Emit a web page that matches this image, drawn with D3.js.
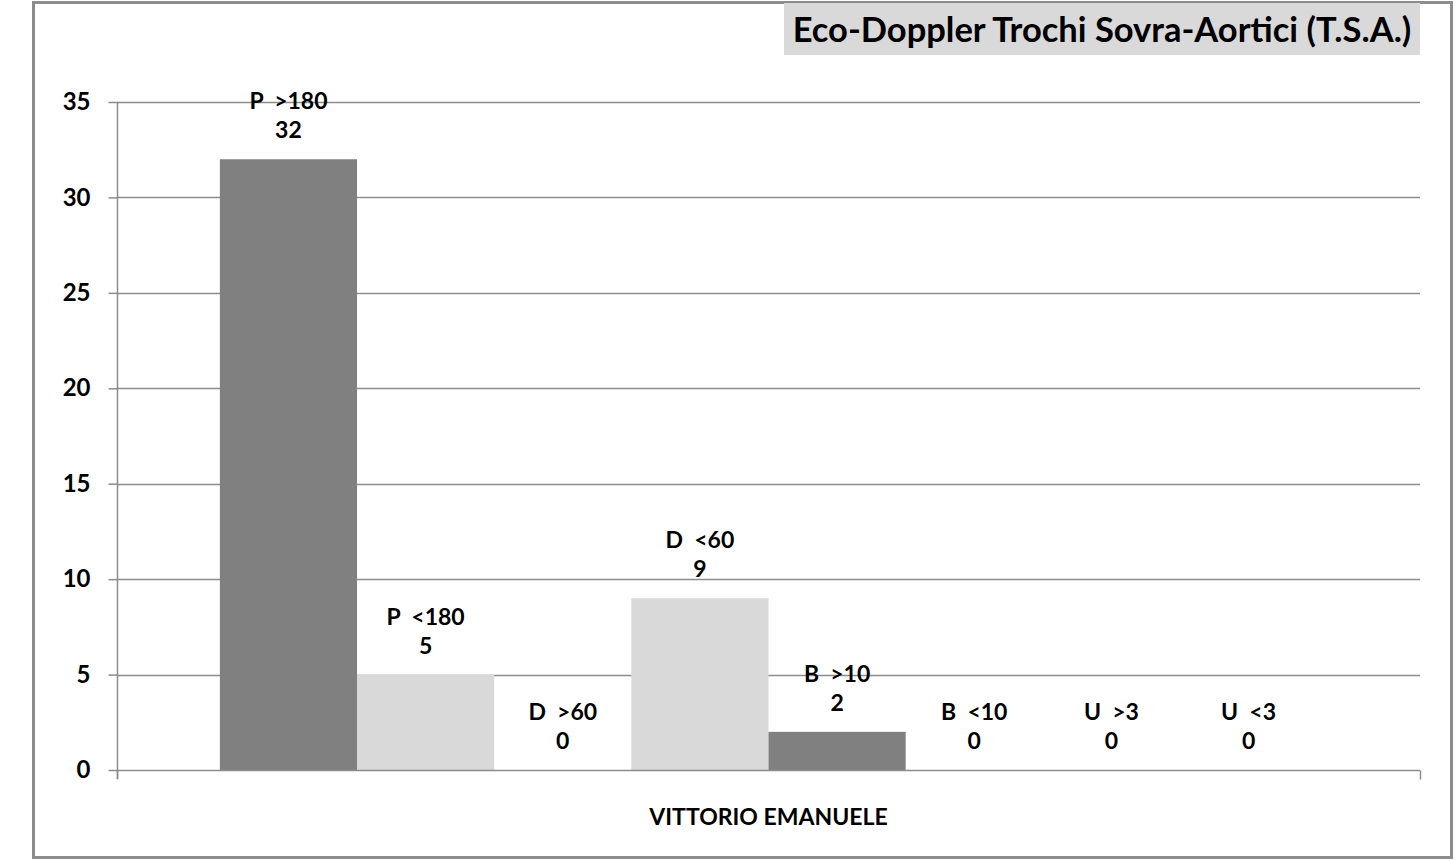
<!DOCTYPE html>
<html>
<head>
<meta charset="utf-8">
<script src="https://cdn.jsdelivr.net/npm/d3@7/dist/d3.min.js"></script>
<style>
  html, body { margin: 0; padding: 0; background: #fff; }
  svg { display: block; }
  text { font-family: Lato, "Open Sans", sans-serif; font-weight: 700; fill: #000; }
</style>
</head>
<body>
<svg id="chart" width="1456" height="861"></svg>
<script>
// Chart content
const titleText = "Eco-Doppler Trochi Sovra-Aortici (T.S.A.)";
const categories = ["VITTORIO EMANUELE"];
const seriesNames = ["P  >180", "P  <180", "D  >60", "D  <60", "B  >10", "B  <10", "U  >3", "U  <3"];
const seriesValues = [32, 5, 0, 9, 2, 0, 0, 0];
const seriesColors = ["#808080", "#d9d9d9", "#808080", "#d9d9d9", "#808080", "#d9d9d9", "#808080", "#d9d9d9"];
const yTicks = [0, 5, 10, 15, 20, 25, 30, 35];

const svg = d3.select("#chart");

// Outer chart frame
svg.append("rect")
  .attr("x", 33.5).attr("y", 2.5)
  .attr("width", 1418).attr("height", 855)
  .attr("fill", "#fff")
  .attr("stroke", "#8c8c8c").attr("stroke-width", 3);

// Plot area
const plot = { left: 117, right: 1420, top: 102, bottom: 770 };

const y = d3.scaleLinear().domain([0, 35]).range([plot.bottom, plot.top]);
const x0 = d3.scaleBand().domain(categories).range([plot.left, plot.right]).padding(0);
const x1 = d3.scaleBand().domain(seriesNames).range([0, x0.bandwidth()])
  .paddingInner(0).paddingOuter(0.75);

// Horizontal gridlines
svg.append("g")
  .selectAll("line")
  .data(yTicks.filter(d => d > 0))
  .join("line")
  .attr("x1", plot.left).attr("x2", plot.right)
  .attr("y1", d => Math.round(y(d)) + 0.5).attr("y2", d => Math.round(y(d)) + 0.5)
  .attr("stroke", "#8c8c8c").attr("stroke-width", 1.5);

// Y axis
const yAxis = d3.axisLeft(y).tickValues(yTicks).tickSize(9).tickPadding(18).tickFormat(d3.format("d"));
const gy = svg.append("g").attr("transform", `translate(${plot.left + 0.5},0)`).call(yAxis);
gy.select(".domain").remove();
gy.selectAll(".tick line").attr("stroke", "#8c8c8c").attr("stroke-width", 1.5);
gy.selectAll(".tick text").style("font-size", "24px").attr("fill", "#000");
gy.append("line")
  .attr("x1", 0).attr("x2", 0)
  .attr("y1", plot.top).attr("y2", plot.bottom + 9)
  .attr("stroke", "#8c8c8c").attr("stroke-width", 1.5);

// Bars
const group = svg.append("g").attr("transform", `translate(${x0(categories[0])},0)`);
const data = seriesNames.map((name, i) => ({ name, value: seriesValues[i], color: seriesColors[i] }));

group.selectAll("rect")
  .data(data)
  .join("rect")
  .attr("x", d => x1(d.name))
  .attr("width", x1.bandwidth())
  .attr("y", d => y(d.value))
  .attr("height", d => y(0) - y(d.value))
  .attr("fill", d => d.color);

// X axis baseline and category boundary ticks
const xAxis = d3.axisBottom(x0).tickSize(0).tickFormat("");
const gx = svg.append("g").attr("transform", `translate(0,${plot.bottom + 0.5})`).call(xAxis);
gx.select(".domain").remove();
gx.append("line")
  .attr("x1", plot.left).attr("x2", plot.right)
  .attr("stroke", "#8c8c8c").attr("stroke-width", 1.5);
[plot.left, plot.right].forEach(px => {
  gx.append("line")
    .attr("x1", px + 0.5).attr("x2", px + 0.5)
    .attr("y1", 0).attr("y2", 9)
    .attr("stroke", "#8c8c8c").attr("stroke-width", 1.5);
});

// Category label
svg.append("text")
  .attr("x", x0(categories[0]) + x0.bandwidth() / 2)
  .attr("y", 825)
  .attr("text-anchor", "middle")
  .style("font-size", "23px")
  .text(categories[0]);

// Data labels: series name above value
const labels = group.selectAll("g.label")
  .data(data)
  .join("g")
  .attr("class", "label")
  .attr("transform", d => `translate(${x1(d.name) + x1.bandwidth() / 2},${y(d.value)})`);

labels.append("text")
  .attr("y", -50)
  .attr("text-anchor", "middle")
  .style("font-size", "23px")
  .style("white-space", "pre")
  .attr("xml:space", "preserve")
  .text(d => d.name);

labels.append("text")
  .attr("y", -21)
  .attr("text-anchor", "middle")
  .style("font-size", "23px")
  .text(d => d.value);

// Title box
svg.append("rect")
  .attr("x", 784).attr("y", 3)
  .attr("width", 636).attr("height", 52)
  .attr("fill", "#d9d9d9");
svg.append("text")
  .attr("x", 1102).attr("y", 42)
  .attr("text-anchor", "middle")
  .style("font-size", "34.5px")
  .text(titleText);
</script>
</body>
</html>
